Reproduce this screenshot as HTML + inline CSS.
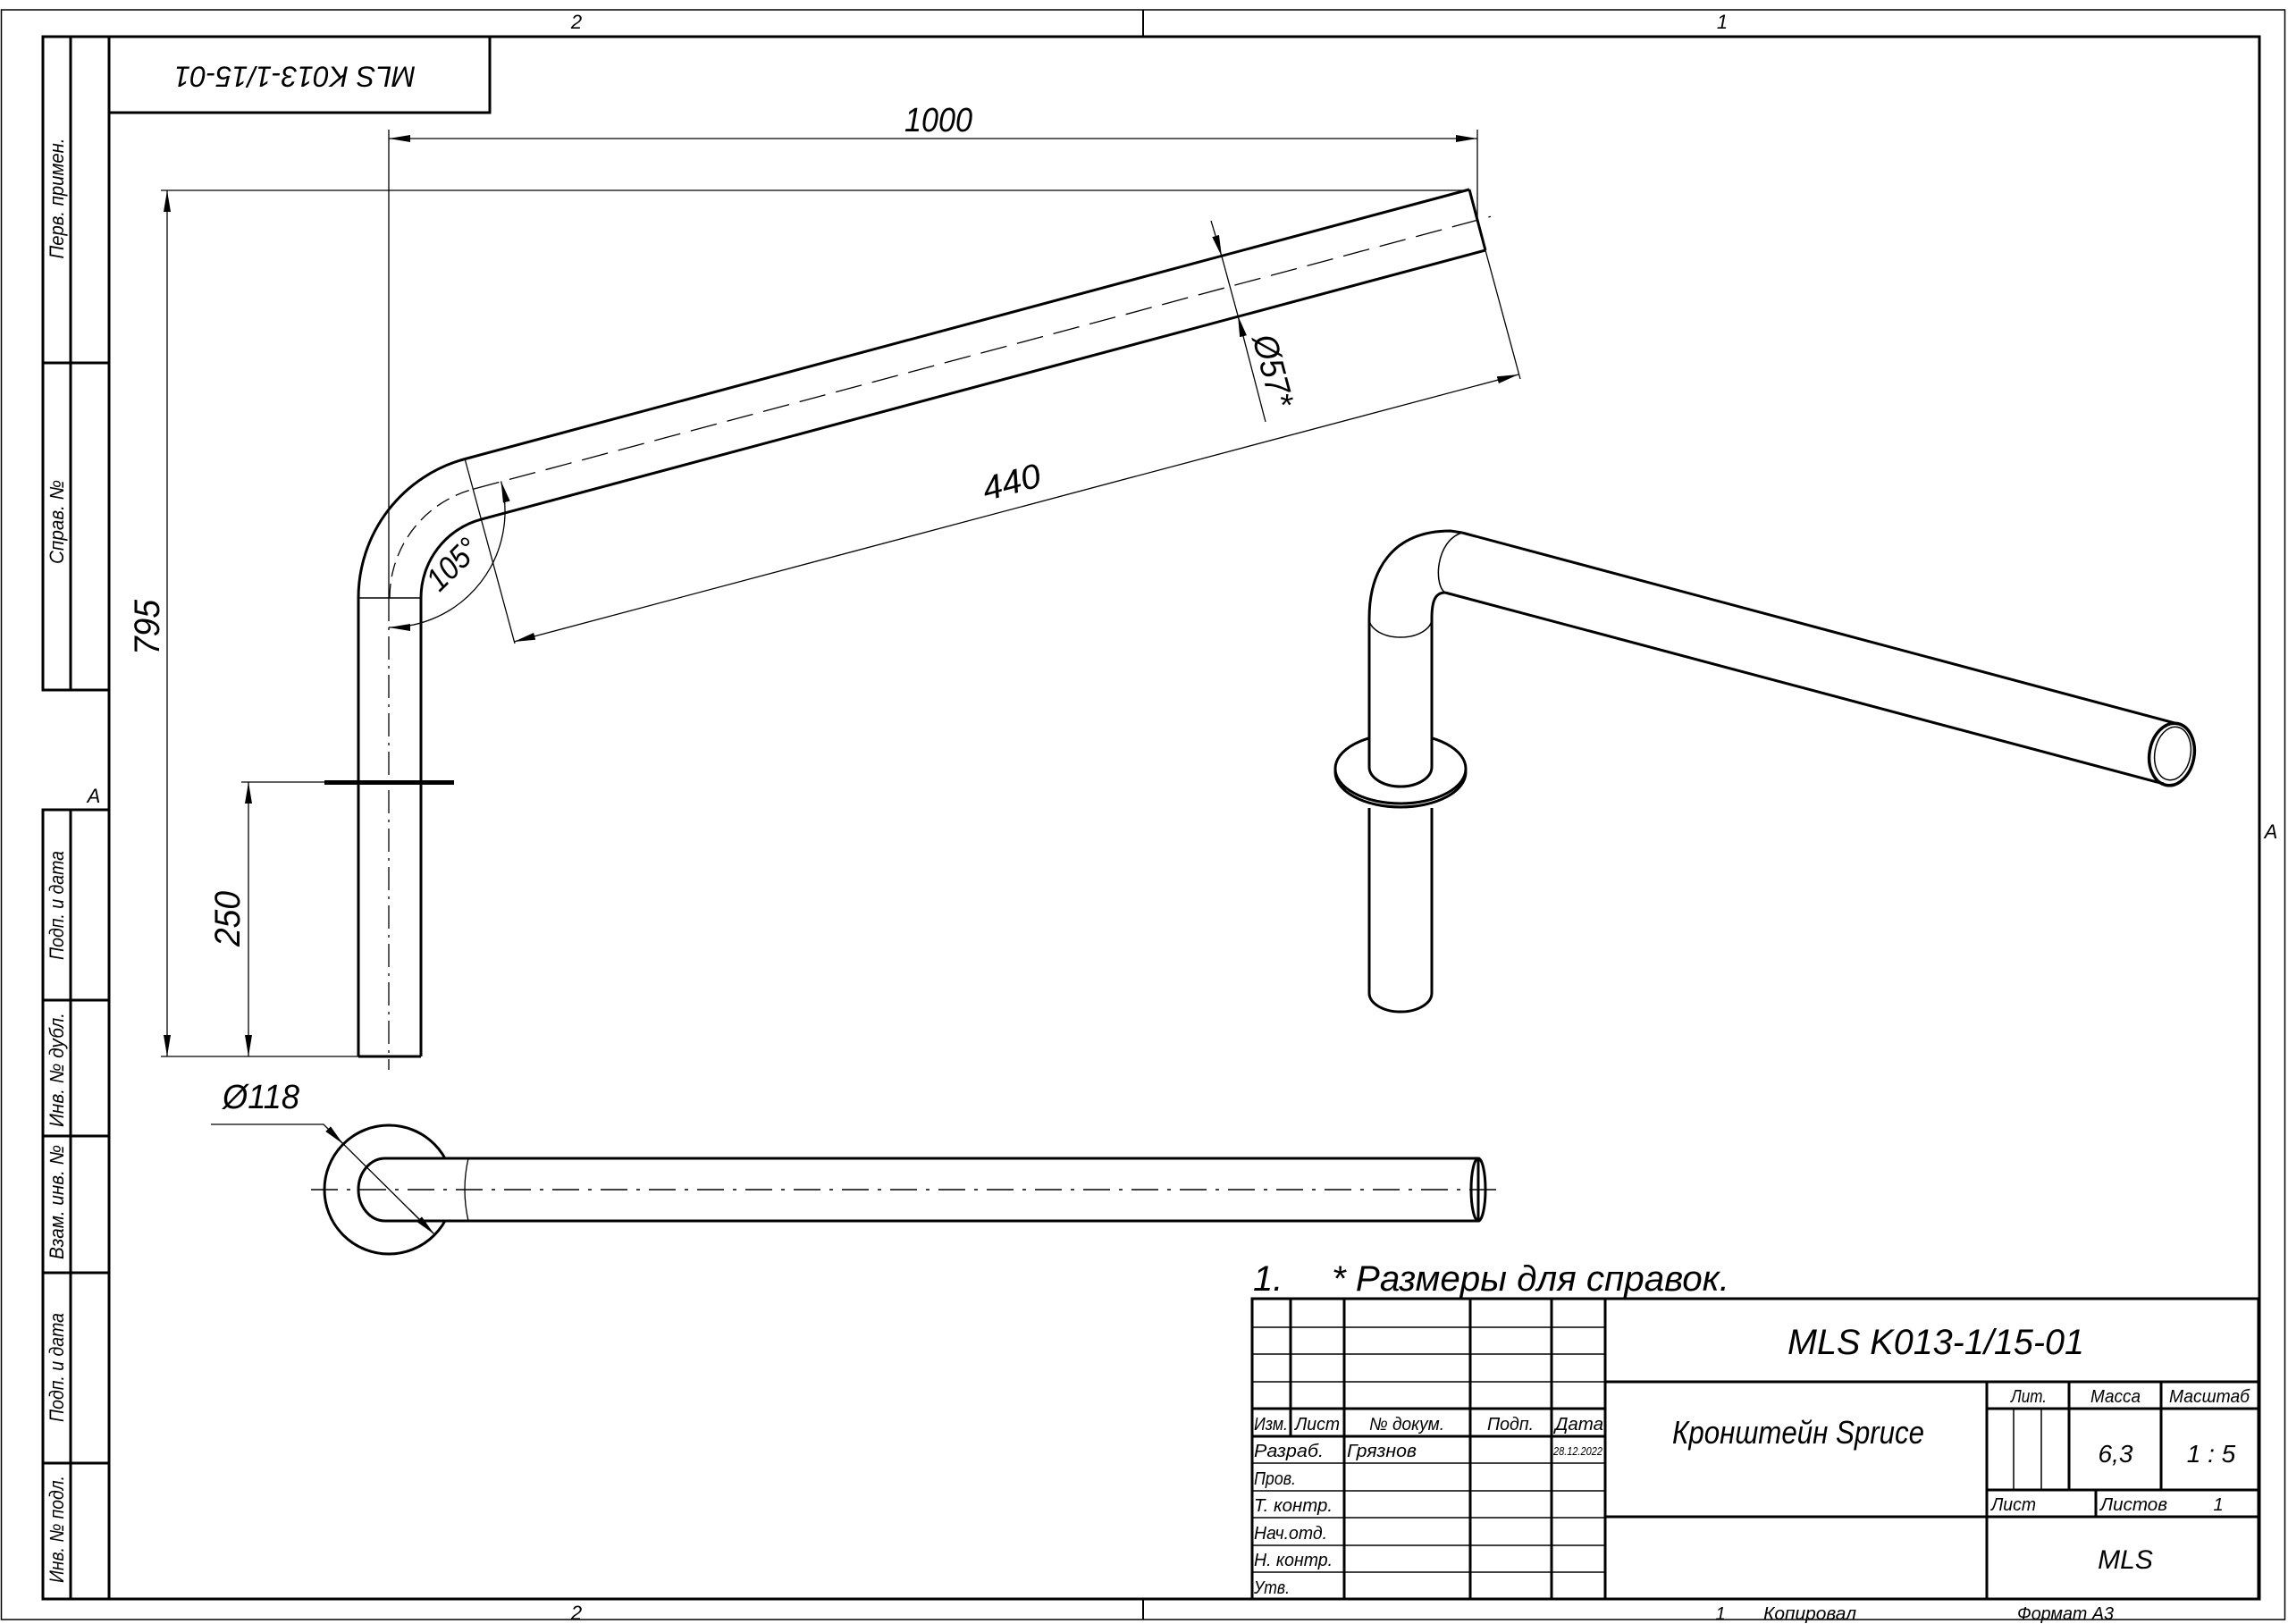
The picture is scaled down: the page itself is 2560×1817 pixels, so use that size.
<!DOCTYPE html>
<html><head><meta charset="utf-8"><style>
html,body{margin:0;padding:0;background:#fff;}
svg{display:block;}
text{font-family:"Liberation Sans","DejaVu Sans",sans-serif;font-style:italic;fill:#000;}
</style></head><body>
<svg width="2560" height="1817" viewBox="0 0 2560 1817" xmlns="http://www.w3.org/2000/svg">
<defs>
<marker id="ar" viewBox="0 0 24 8" refX="24" refY="4" markerWidth="24" markerHeight="8" markerUnits="userSpaceOnUse" orient="auto-start-reverse">
<path d="M0,0 L24,4 L0,8 Z" fill="#000"/></marker>
</defs>
<g fill="none" stroke="#000">
<rect x="1.5" y="11" width="2555" height="1801" stroke-width="1.5"/>
<line x1="1279" y1="11" x2="1279" y2="41" stroke-width="2"/>
<line x1="1279" y1="1789" x2="1279" y2="1812" stroke-width="2"/>
<rect x="122" y="41" width="2406" height="1748" stroke-width="3"/>
<polyline points="122,41 48,41 48,772 122,772" stroke-width="3"/>
<line x1="79" y1="41" x2="79" y2="772" stroke-width="3"/>
<line x1="48" y1="406" x2="122" y2="406" stroke-width="3"/>
<polyline points="122,906 48,906 48,1789 122,1789" stroke-width="3"/>
<line x1="79" y1="906" x2="79" y2="1789" stroke-width="3"/>
<line x1="48" y1="1119" x2="122" y2="1119" stroke-width="3"/>
<line x1="48" y1="1271" x2="122" y2="1271" stroke-width="3"/>
<line x1="48" y1="1424" x2="122" y2="1424" stroke-width="3"/>
<line x1="48" y1="1637" x2="122" y2="1637" stroke-width="3"/>
<polyline points="122,126 548,126 548,41" stroke-width="3"/>

<line x1="435" y1="145" x2="435" y2="669" stroke-width="1.3"/>
<line x1="1653" y1="145" x2="1653" y2="245" stroke-width="1.3"/>
<line x1="435" y1="155" x2="1653" y2="155" stroke-width="1.3" marker-start="url(#ar)" marker-end="url(#ar)"/>
<line x1="180" y1="213" x2="1644" y2="213" stroke-width="1.3"/>
<line x1="180" y1="1182" x2="401" y2="1182" stroke-width="1.3"/>
<line x1="187" y1="213" x2="187" y2="1182" stroke-width="1.3" marker-start="url(#ar)" marker-end="url(#ar)"/>
<line x1="270" y1="875" x2="363" y2="875" stroke-width="1.3"/>
<line x1="278" y1="875" x2="278" y2="1182" stroke-width="1.3" marker-start="url(#ar)" marker-end="url(#ar)"/>
<line x1="401" y1="669" x2="401" y2="1182" stroke-width="3"/>
<line x1="471" y1="669" x2="471" y2="1182" stroke-width="3"/>
<line x1="401" y1="1182" x2="471" y2="1182" stroke-width="3"/>
<line x1="401" y1="669" x2="471" y2="669" stroke-width="1.5"/>
<path d="M401,669 A161,161 0 0 1 520.3,513.5" stroke-width="3"/>
<path d="M471,669 A91,91 0 0 1 538.4,581.1" stroke-width="3"/>
<line x1="520.3" y1="513.5" x2="1644" y2="212" stroke-width="3"/>
<line x1="538.4" y1="581.1" x2="1662" y2="280" stroke-width="3"/>
<line x1="1644" y1="212" x2="1662" y2="280" stroke-width="3"/>
<line x1="435" y1="669" x2="435" y2="1197" stroke-width="1.3" stroke-dasharray="26,7,3,7"/>
<path d="M436,669 A126,126 0 0 1 529.4,547.3" stroke-width="1.3" stroke-dasharray="16,8"/>
<line x1="529.4" y1="547.3" x2="1668" y2="242.3" stroke-width="1.3" stroke-dasharray="30,12"/>
<rect x="363" y="873" width="145" height="5" fill="#000" stroke="none"/>
<line x1="520" y1="513" x2="576" y2="720" stroke-width="1.3"/>
<line x1="1662" y1="280" x2="1701" y2="424" stroke-width="1.3"/>
<line x1="575" y1="718" x2="1699" y2="419" stroke-width="1.3" marker-start="url(#ar)" marker-end="url(#ar)"/>
<line x1="1355" y1="247" x2="1367" y2="287" stroke-width="1.3" marker-end="url(#ar)"/>
<line x1="1416" y1="472" x2="1385" y2="353" stroke-width="1.3" marker-end="url(#ar)"/>
<line x1="1367" y1="287" x2="1385" y2="353" stroke-width="1.3"/>
<path d="M435,702 A130,130 0 0 0 560.6,538.4" stroke-width="1.3" marker-start="url(#ar)" marker-end="url(#ar)"/>

<circle cx="435" cy="1331" r="72" stroke-width="3" fill="#fff"/>
<path d="M431,1296 L1654,1296 L1654,1366 L431,1366 A30,35 0 0 1 431,1296 Z" stroke-width="3" fill="#fff"/>
<path d="M524,1296 Q516,1331 524,1366" stroke-width="1.3"/>
<ellipse cx="1654" cy="1331" rx="8" ry="35" stroke-width="3"/>
<line x1="348" y1="1331" x2="1680" y2="1331" stroke-width="1.5" stroke-dasharray="30,10,4,10"/>
<polyline points="236,1258 362,1258 484,1379" stroke-width="1.3"/>
<line x1="380" y1="1276" x2="384" y2="1280" stroke-width="1.3" marker-end="url(#ar)"/>
<line x1="458" y1="1353" x2="486" y2="1381" stroke-width="1.3" marker-end="url(#ar)"/>

<ellipse cx="1567" cy="864" rx="73" ry="39" stroke-width="3" fill="#fff"/>
<ellipse cx="1567" cy="860" rx="73" ry="39" stroke-width="3" fill="#fff"/>
<path d="M1532,692 L1532,858 A35,22 0 0 0 1602,858 L1602,692" stroke-width="3" fill="#fff"/>
<path d="M1532,692 A35,21 0 0 0 1602,692" stroke-width="1.5"/>
<path d="M1532,904 L1532,1111 A35,21 0 0 0 1602,1111 L1602,904" stroke-width="3"/>
<path d="M1532,692 C1532,640 1556,594 1623,594 L1636,596" stroke-width="3"/>
<path d="M1602,692 C1602,672 1606,663 1617,663" stroke-width="3"/>
<path d="M1636,596 C1606,605 1604,655 1617,663" stroke-width="1.5"/>
<line x1="1636" y1="596" x2="2437" y2="810" stroke-width="3"/>
<line x1="1617" y1="663" x2="2421" y2="877" stroke-width="3"/>
<ellipse cx="2430" cy="844" rx="25" ry="35" stroke-width="3.5" transform="rotate(10 2430 844)"/>
<ellipse cx="2431" cy="843" rx="20" ry="30" stroke-width="1.5" transform="rotate(10 2431 843)"/>

<rect x="1401" y="1453" width="1126" height="336" stroke-width="3"/>
<g stroke-width="1.5">
<line x1="1401" y1="1485" x2="1796" y2="1485"/>
<line x1="1401" y1="1515" x2="1796" y2="1515"/>
<line x1="1401" y1="1546" x2="1796" y2="1546"/>
<line x1="1401" y1="1637" x2="1796" y2="1637"/>
<line x1="1401" y1="1668" x2="1796" y2="1668"/>
<line x1="1401" y1="1698" x2="1796" y2="1698"/>
<line x1="1401" y1="1729" x2="1796" y2="1729"/>
<line x1="1401" y1="1759" x2="1796" y2="1759"/>
<line x1="2253" y1="1576" x2="2253" y2="1667"/>
<line x1="2284" y1="1576" x2="2284" y2="1667"/>
</g>
<g stroke-width="3">
<line x1="1401" y1="1576" x2="1796" y2="1576"/>
<line x1="1401" y1="1607" x2="1796" y2="1607"/>
<line x1="1444" y1="1453" x2="1444" y2="1607"/>
<line x1="1504" y1="1453" x2="1504" y2="1789"/>
<line x1="1645" y1="1453" x2="1645" y2="1789"/>
<line x1="1736" y1="1453" x2="1736" y2="1789"/>
<line x1="1796" y1="1453" x2="1796" y2="1789"/>
<line x1="1796" y1="1546" x2="2527" y2="1546"/>
<line x1="2223" y1="1546" x2="2223" y2="1789"/>
<line x1="2223" y1="1576" x2="2527" y2="1576"/>
<line x1="2223" y1="1667" x2="2527" y2="1667"/>
<line x1="1796" y1="1697" x2="2527" y2="1697"/>
<line x1="2315" y1="1546" x2="2315" y2="1667"/>
<line x1="2418" y1="1546" x2="2418" y2="1667"/>
<line x1="2345" y1="1667" x2="2345" y2="1697"/>
</g>
</g>

<g>
<text x="645" y="32" font-size="22" text-anchor="middle">2</text>
<text x="1927" y="32" font-size="22" text-anchor="middle">1</text>
<text x="645" y="1812" font-size="22" text-anchor="middle">2</text>
<text x="105" y="898" font-size="22" text-anchor="middle">A</text>
<text x="2541" y="938" font-size="22" text-anchor="middle">A</text>

<text transform="translate(330,83) rotate(180)" font-size="32" text-anchor="middle" dominant-baseline="middle" textLength="270" lengthAdjust="spacingAndGlyphs">MLS K013-1/15-01</text>

<text transform="translate(71,222) rotate(-90)" font-size="22" text-anchor="middle" textLength="135" lengthAdjust="spacingAndGlyphs">Перв. примен.</text>
<text transform="translate(71,584) rotate(-90)" font-size="22" text-anchor="middle" textLength="94" lengthAdjust="spacingAndGlyphs">Справ. №</text>
<text transform="translate(71,1013) rotate(-90)" font-size="22" text-anchor="middle" textLength="122" lengthAdjust="spacingAndGlyphs">Подп. и дата</text>
<text transform="translate(71,1197) rotate(-90)" font-size="22" text-anchor="middle" textLength="128" lengthAdjust="spacingAndGlyphs">Инв. № дубл.</text>
<text transform="translate(71,1345) rotate(-90)" font-size="22" text-anchor="middle" textLength="128" lengthAdjust="spacingAndGlyphs">Взам. инв. №</text>
<text transform="translate(71,1530) rotate(-90)" font-size="22" text-anchor="middle" textLength="122" lengthAdjust="spacingAndGlyphs">Подп. и дата</text>
<text transform="translate(71,1711) rotate(-90)" font-size="22" text-anchor="middle" textLength="120" lengthAdjust="spacingAndGlyphs">Инв. № подл.</text>

<text x="1050" y="147" font-size="38" text-anchor="middle" textLength="76" lengthAdjust="spacingAndGlyphs">1000</text>
<text transform="translate(178,702) rotate(-90)" font-size="40" text-anchor="middle" textLength="62" lengthAdjust="spacingAndGlyphs">795</text>
<text transform="translate(268,1028) rotate(-90)" font-size="40" text-anchor="middle" textLength="62" lengthAdjust="spacingAndGlyphs">250</text>
<text transform="translate(1135,552) rotate(-15)" font-size="38" text-anchor="middle" textLength="66" lengthAdjust="spacingAndGlyphs">440</text>
<text transform="translate(515,640) rotate(-45)" font-size="36" text-anchor="middle" textLength="66" lengthAdjust="spacingAndGlyphs">105°</text>
<text transform="translate(1412,418) rotate(75)" font-size="38" text-anchor="middle" textLength="82" lengthAdjust="spacingAndGlyphs">Ø57*</text>
<text x="292" y="1240" font-size="38" text-anchor="middle" textLength="86" lengthAdjust="spacingAndGlyphs">Ø118</text>

<text x="1402" y="1444" font-size="40">1.</text>
<text x="1490" y="1444" font-size="40" textLength="445" lengthAdjust="spacingAndGlyphs">* Размеры для справок.</text>

<text x="2166" y="1515" font-size="40" text-anchor="middle" textLength="332" lengthAdjust="spacingAndGlyphs">MLS K013-1/15-01</text>
<text x="2012" y="1615" font-size="36" text-anchor="middle" textLength="282" lengthAdjust="spacingAndGlyphs">Кронштейн Sprucе</text>

<g font-size="20">
<text x="1403" y="1600" textLength="38" lengthAdjust="spacingAndGlyphs">Изм.</text>
<text x="1449" y="1600" textLength="50" lengthAdjust="spacingAndGlyphs">Лист</text>
<text x="1574" y="1600" text-anchor="middle" textLength="84" lengthAdjust="spacingAndGlyphs">№ докум.</text>
<text x="1690" y="1600" text-anchor="middle" textLength="52" lengthAdjust="spacingAndGlyphs">Подп.</text>
<text x="1740" y="1600" textLength="54" lengthAdjust="spacingAndGlyphs">Дата</text>
<text x="1403" y="1630" textLength="78" lengthAdjust="spacingAndGlyphs">Разраб.</text>
<text x="1507" y="1630" textLength="78" lengthAdjust="spacingAndGlyphs">Грязнов</text>
<text x="1738" y="1628" font-size="13" textLength="55" lengthAdjust="spacingAndGlyphs">28.12.2022</text>
<text x="1403" y="1661" textLength="47" lengthAdjust="spacingAndGlyphs">Пров.</text>
<text x="1403" y="1691" textLength="88" lengthAdjust="spacingAndGlyphs">Т. контр.</text>
<text x="1403" y="1722" textLength="82" lengthAdjust="spacingAndGlyphs">Нач.отд.</text>
<text x="1403" y="1752" textLength="88" lengthAdjust="spacingAndGlyphs">Н. контр.</text>
<text x="1403" y="1783" textLength="40" lengthAdjust="spacingAndGlyphs">Утв.</text>
<text x="2270" y="1569" text-anchor="middle" textLength="40" lengthAdjust="spacingAndGlyphs">Лит.</text>
<text x="2367" y="1569" text-anchor="middle" textLength="56" lengthAdjust="spacingAndGlyphs">Масса</text>
<text x="2472" y="1569" text-anchor="middle" textLength="90" lengthAdjust="spacingAndGlyphs">Масштаб</text>
<text x="2228" y="1690" textLength="50" lengthAdjust="spacingAndGlyphs">Лист</text>
<text x="2350" y="1690" textLength="75" lengthAdjust="spacingAndGlyphs">Листов</text>
<text x="2482" y="1690" text-anchor="middle">1</text>
<text x="1925" y="1812" text-anchor="middle">1</text>
<text x="1973" y="1812" textLength="104" lengthAdjust="spacingAndGlyphs">Копировал</text>
<text x="2257" y="1812" textLength="108" lengthAdjust="spacingAndGlyphs">Формат А3</text>
</g>
<text x="2367" y="1636" font-size="28" text-anchor="middle">6,3</text>
<text x="2474" y="1636" font-size="28" text-anchor="middle">1 : 5</text>
<text x="2378" y="1755" font-size="30" text-anchor="middle">MLS</text>
</g>
</svg>
</body></html>
